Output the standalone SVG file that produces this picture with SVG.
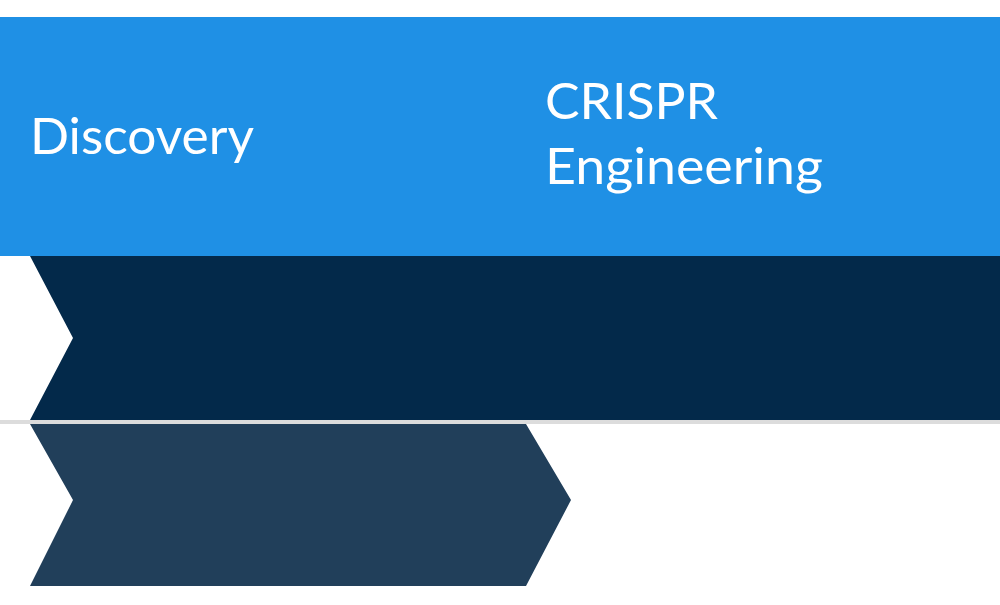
<svg xmlns="http://www.w3.org/2000/svg" width="1000" height="605" viewBox="0 0 1000 605">
<style>
.lbl{font-family:Lato,"Open Sans","Liberation Sans",sans-serif;font-size:50px;fill:#ffffff}
</style>
<rect x="0" y="0" width="1000" height="605" fill="#ffffff"/>
<g id="header">
<rect x="0" y="17" width="1000" height="239" fill="#1f90e5"/>
<text class="lbl" x="30" y="154" textLength="224" lengthAdjust="spacingAndGlyphs">Discovery</text>
<text class="lbl" x="545" y="119" textLength="173" lengthAdjust="spacingAndGlyphs">CRISPR</text>
<text class="lbl" x="545" y="184" textLength="278" lengthAdjust="spacingAndGlyphs">Engineering</text>
</g>
<g id="band1">
<polygon points="30,256 1000,256 1000,420 30,420 73,338" fill="#03294a"/>
</g>
<g id="divider">
<rect x="0" y="420" width="1000" height="4" fill="#dcdcdc"/>
</g>
<g id="band2">
<polygon points="30,424 526,424 571,500 526,586 30,586 73,500" fill="#213f5a"/>
</g>
</svg>
